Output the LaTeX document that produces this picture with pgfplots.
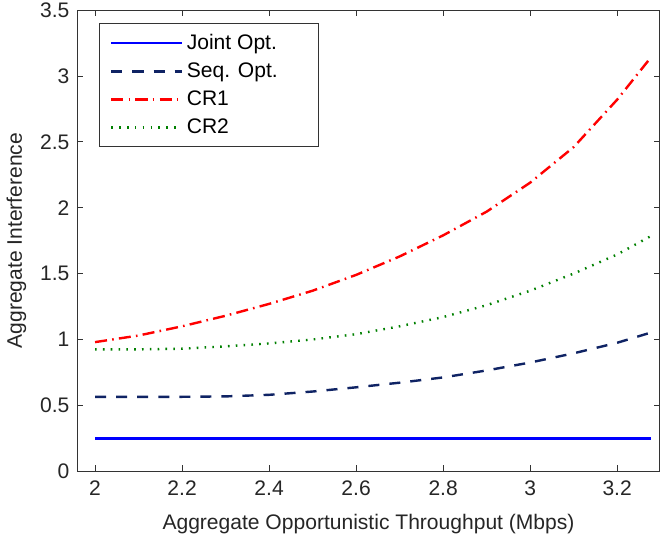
\documentclass[border=0pt]{standalone}
\usepackage{fontspec}
\setmainfont{Liberation Sans}
\usepackage{pgfplots}
\pgfplotsset{compat=1.18}
\definecolor{seqc}{RGB}{15,35,100}
\definecolor{crtwo}{RGB}{0,128,0}
\begin{document}
\begin{tikzpicture}
\begin{axis}[
  name=ax,
  width=290.3pt, height=230pt, scale only axis,
  xmin=1.9594, xmax=3.2975, ymin=0, ymax=3.5,
  xtick={2,2.2,2.4,2.6,2.8,3,3.2},
  xticklabels={2,2.2,2.4,2.6,2.8,3,3.2},
  ytick={0,0.5,1,1.5,2,2.5,3,3.5},
  yticklabels={0,0.5,1,1.5,2,2.5,3,3.5},
  tick align=inside, tick pos=both,
  major tick length=3pt,
  axis line style={black!80},
  every tick/.style={black!80},
  tick label style={font=\fontsize{10.5}{12}\selectfont, black!85},
  label style={font=\fontsize{10.5}{12}\selectfont, black!85},
  xticklabel style={yshift=-1pt},
  yticklabel style={xshift=-0.5pt, inner ysep=0pt},
  xlabel={Aggregate Opportunistic Throughput (Mbps)},
  ylabel={Aggregate Interference},
  xlabel style={yshift=-2.5pt},
  legend cell align=left,
  legend style={at={(0.0367,0.971)}, anchor=north west, draw=black!80,
    font=\fontsize{10.5}{12}\selectfont, inner xsep=5.5pt, inner ysep=3pt,
    row sep=1.2pt},
  legend image code/.code={\draw[#1] (0pt,0pt) -- (35pt,0pt);},
]
\addplot[blue, line width=1.2pt] coordinates {(2,0.25) (3.277,0.25)};
\addlegendentry{\makebox[58pt][l]{Joint Opt.}}
\addplot[seqc, line width=1.2pt, dash pattern=on 5.5pt off 5pt] coordinates {
(2,0.565) (2.1,0.565) (2.2,0.565) (2.3,0.568) (2.4,0.58) (2.5,0.605) (2.6,0.637)
(2.7,0.672) (2.8,0.712) (2.9,0.765) (3.0,0.825) (3.1,0.895) (3.2,0.975) (3.275,1.05)};
\addlegendentry{Seq. Opt.}
\addplot[red, line width=1.2pt, dash pattern=on 6pt off 2.6pt on 0.8pt off 2.6pt] coordinates {
(2,0.98) (2.1,1.03) (2.2,1.1) (2.3,1.18) (2.4,1.27) (2.5,1.37) (2.6,1.49)
(2.7,1.63) (2.8,1.79) (2.9,1.97) (3.0,2.19) (3.1,2.46) (3.2,2.82) (3.275,3.13)};
\addlegendentry{CR1}
\addplot[crtwo, line width=1.2pt, dash pattern=on 0.8pt off 3.1pt] coordinates {
(2,0.925) (2.1,0.925) (2.2,0.93) (2.3,0.948) (2.4,0.97) (2.5,1.0) (2.6,1.04)
(2.7,1.1) (2.8,1.17) (2.9,1.26) (3.0,1.37) (3.1,1.5) (3.2,1.645) (3.275,1.78)};
\addlegendentry{CR2}
\end{axis}
\path ([yshift=-36pt]ax.south);
\path ([yshift=5pt]ax.north);
\end{tikzpicture}
\end{document}
